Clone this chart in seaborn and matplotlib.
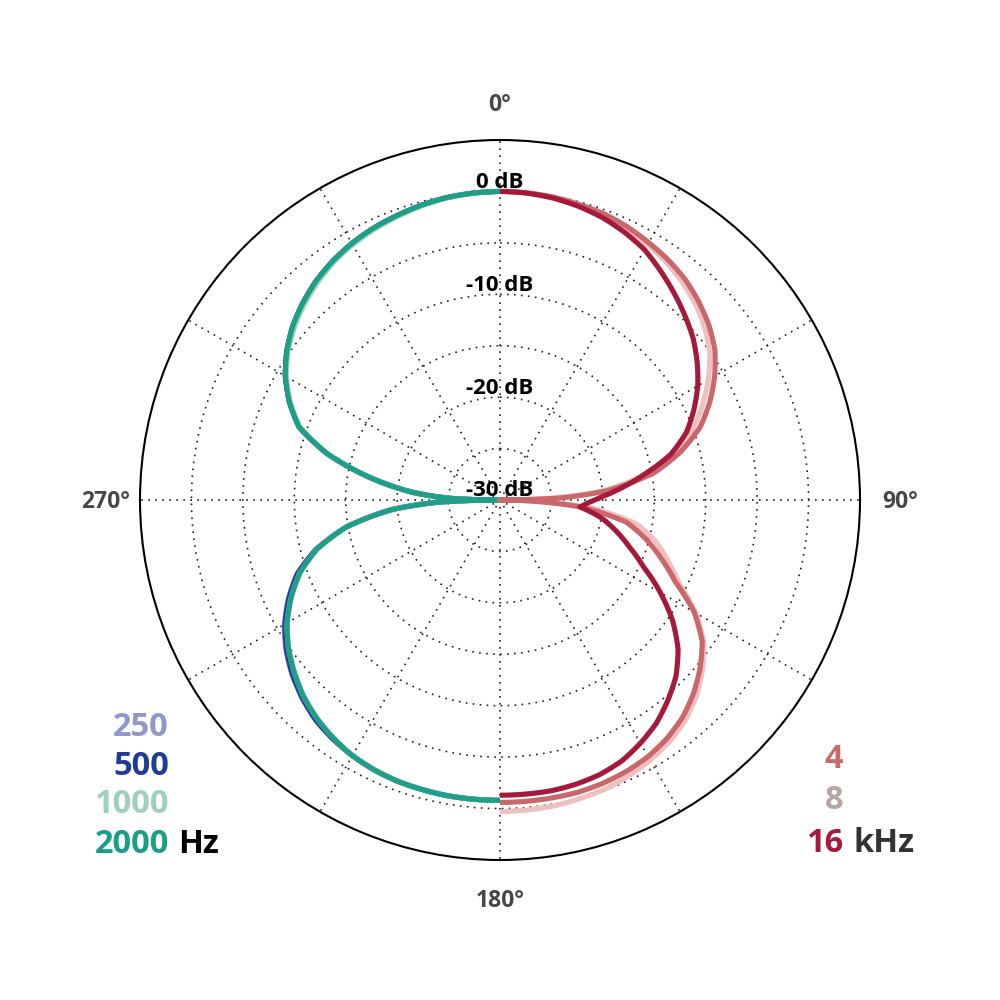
import numpy as np
import pandas as pd
import matplotlib
matplotlib.use("Agg")
import matplotlib.pyplot as plt
import seaborn as sns

# polar response in dB, angle in degrees clockwise from the front (0°)
# rear-left half: 250 / 500 / 1000 / 2000 Hz
ang_low = [180, 185, 190, 195, 200, 205, 210, 215, 220, 225, 230, 235, 240, 245, 250, 255,
           260, 265, 268, 270, 272, 275, 280, 285, 290, 295, 300, 305, 310, 315, 320, 325,
           330, 335, 340, 345, 350, 355, 360]
db_250 = [-0.8, -0.8, -0.8, -0.85, -0.9, -1.05, -1.3, -1.65, -2.1, -2.8, -3.6, -4.6, -5.8, -7.3,
          -9.0, -11.5, -14.8, -19.5, -24, -30, -25, -21.5, -17, -12.6, -9.2, -7.4, -5.9, -4.7,
          -3.7, -2.9, -2.2, -1.65, -1.2, -0.85, -0.6, -0.35, -0.15, -0.05, 0]
db_500 = [-0.8, -0.8, -0.8, -0.85, -0.9, -1.05, -1.3, -1.65, -2.1, -2.8, -3.65, -4.65, -5.85, -7.35,
          -9.05, -11.5, -14.8, -19.5, -24, -30, -25, -21.5, -17, -12.6, -9.2, -7.4, -5.9, -4.7,
          -3.7, -2.9, -2.2, -1.65, -1.2, -0.85, -0.6, -0.35, -0.15, -0.05, 0]
db_1000 = [-0.8, -0.8, -0.8, -0.85, -0.9, -1.05, -1.3, -1.75, -2.3, -3.0, -3.9, -4.9, -6.1, -7.6,
           -9.3, -11.6, -14.8, -19.5, -24, -30, -25, -21.5, -17, -12.65, -9.3, -7.5, -6.0, -4.85,
           -3.9, -3.1, -2.4, -1.8, -1.35, -1.0, -0.7, -0.4, -0.18, -0.05, 0]
db_2000 = [-0.8, -0.8, -0.8, -0.85, -0.9, -1.05, -1.3, -1.75, -2.3, -3.0, -3.9, -4.9, -6.1, -7.6,
           -9.3, -11.6, -14.8, -19.5, -24, -30, -25, -21.5, -17, -12.6, -9.2, -7.4, -5.9, -4.7,
           -3.7, -2.9, -2.2, -1.65, -1.2, -0.85, -0.6, -0.35, -0.15, -0.05, 0]

# front-right half: 4 / 8 / 16 kHz
ang_high = [0, 5, 10, 15, 20, 25, 30, 35, 40, 45, 50, 55, 60, 65, 70, 75, 80, 85, 88, 90, 92,
            95, 100, 105, 110, 115, 120, 125, 130, 135, 140, 145, 150, 155, 160, 165, 170, 175, 180]
db_4k = [0, -0.03, -0.1, -0.25, -0.4, -0.7, -1.1, -1.5, -2.0, -2.7, -3.5, -4.5, -5.9, -7.5, -9.3,
         -11.8, -14.8, -19.5, -24, -30, -27, -22, -17.5, -15.3, -13.3, -11.2, -8.2, -6.0, -4.6,
         -3.4, -2.4, -1.7, -1.2, -0.9, -0.7, -0.6, -0.6, -0.6, -0.6]
db_8k = [0, -0.03, -0.1, -0.28, -0.5, -0.85, -1.3, -1.8, -2.4, -3.1, -4.0, -5.1, -6.6, -8.3, -10.1,
         -12.5, -15.5, -20, -25, -30, -26, -21, -16.5, -14.3, -12.6, -10.8, -8.0, -5.8, -4.3,
         -3.0, -2.0, -1.3, -0.8, -0.4, -0.1, 0.05, 0.2, 0.25, 0.3]
db_16k = [0, -0.05, -0.2, -0.45, -0.8, -1.3, -1.9, -2.8, -3.7, -4.6, -5.5, -6.6, -7.8, -9.2, -10.7,
          -12.8, -15.8, -18.5, -20, -20.8, -21.5, -22.2, -20, -18.3, -16.6, -14.6, -12.0, -9.5, -7.4,
          -5.8, -4.6, -3.5, -2.7, -2.0, -1.6, -1.4, -1.3, -1.3, -1.3]

low_names = ["250", "500", "1000", "2000"]
high_names = ["4", "8", "16"]
line_colors = {"250": "#8f95cb", "500": "#233f98", "1000": "#a0d4c2", "2000": "#1f9f88",
               "4": "#c9676b", "8": "#eec0bf", "16": "#a51a3a"}
label_colors = {"250": "#9097cc", "500": "#1f3d96", "1000": "#9fcfbd", "2000": "#1b9e86",
                "4": "#c86a6c", "8": "#b5a5a3", "16": "#a6193c"}

rows = []
for name, vals in zip(low_names, [db_250, db_500, db_1000, db_2000]):
    for a, v in zip(ang_low, vals):
        rows.append((name, np.deg2rad(a), v))
for name, vals in zip(high_names, [db_4k, db_8k, db_16k]):
    for a, v in zip(ang_high, vals):
        rows.append((name, np.deg2rad(a), v))
df = pd.DataFrame(rows, columns=["freq", "theta", "db"])

sns.set_theme(style="white")
plt.rcParams["font.family"] = ["Open Sans", "DejaVu Sans"]

fig = plt.figure(figsize=(10, 10), dpi=100)
ax = fig.add_axes([0.14, 0.14, 0.72, 0.72], projection="polar")
ax.set_theta_zero_location("N")
ax.set_theta_direction(-1)

order = ["250", "500", "1000", "2000", "8", "4", "16"]
sns.lineplot(data=df, x="theta", y="db", hue="freq", hue_order=order,
             palette=line_colors, units="freq", estimator=None, sort=False,
             linewidth=3.7, legend=False, ax=ax)
# draw segments as curves in polar space
for ln in ax.lines:
    ln.get_path()._interpolation_steps = 12
    ln.set_solid_joinstyle("round")
    ln.set_solid_capstyle("butt")

ax.set_ylim(-30, 5)
ax.set_yticks([-30, -25, -20, -15, -10, -5, 0])
ax.set_yticklabels([])
ax.set_xticks(np.deg2rad(np.arange(0, 360, 30)))
ax.set_xticklabels([])
ax.set_xlabel("")
ax.set_ylabel("")
ax.grid(True, color="#222222", linewidth=1.2, linestyle=(0, (1, 3.2)))
ax.spines["polar"].set_color("black")
ax.spines["polar"].set_linewidth(1.5)

for r in [0, -10, -20, -30]:
    ax.text(0, r + 0.35, f"{r} dB", ha="center", va="baseline", fontsize=16,
            fontweight="bold", color="black", zorder=10)

deg_style = dict(fontsize=16.5, fontweight="bold", color="#474747", va="baseline")
fig.text(0.500, 1 - 0.111, "0°", ha="center", **deg_style)
fig.text(0.900, 1 - 0.508, "90°", ha="center", **deg_style)
fig.text(0.500, 1 - 0.907, "180°", ha="center", **deg_style)
fig.text(0.106, 1 - 0.508, "270°", ha="center", **deg_style)

leg_style = dict(fontsize=23.5, fontweight="bold", va="baseline")
for name, yb in zip(low_names, [736, 775, 813, 853]):
    fig.text(0.169, 1 - yb / 1000, name, ha="right", color=label_colors[name], **leg_style)
fig.text(0.178, 1 - 853 / 1000, "Hz", ha="left", color="black", **leg_style)
for name, yb in zip(high_names, [768, 809, 852]):
    fig.text(0.843, 1 - yb / 1000, name, ha="right", color=label_colors[name], **leg_style)
fig.text(0.853, 1 - 852 / 1000, "kHz", ha="left", color="#333333", **leg_style)

fig.savefig("out.png", dpi=100, facecolor="white")
